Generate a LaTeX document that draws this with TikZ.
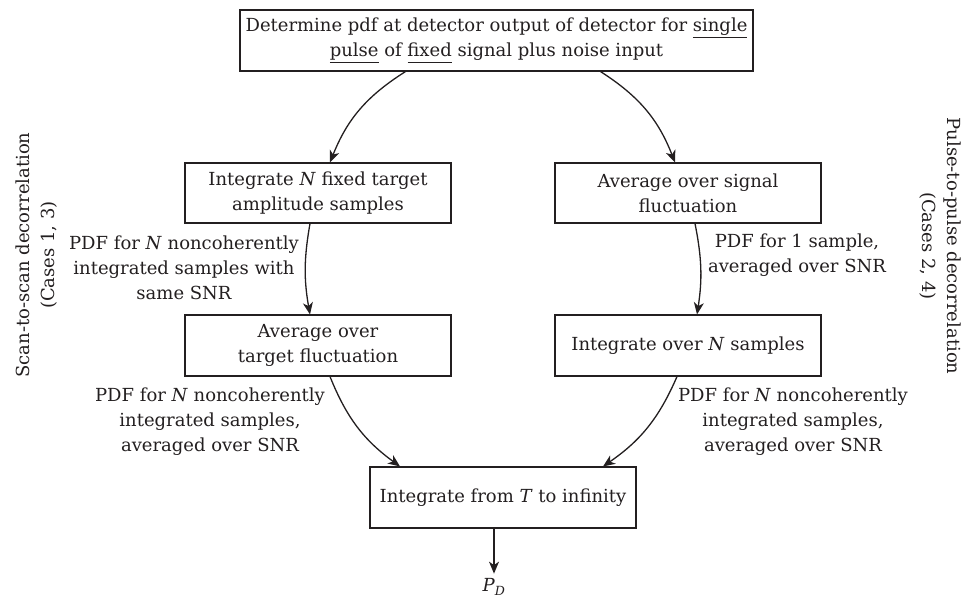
\documentclass[tikz,border=0pt]{standalone}
\usepackage{fontspec}
\setmainfont{DejaVu Serif}
\usetikzlibrary{arrows.meta,calc}
\definecolor{ink}{RGB}{35,31,32}
\newcommand{\myul}[1]{\underline{#1\vphantom{gp}}}
\tikzset{
  boxnode/.style={draw=ink,line width=1.1pt,minimum width=266pt,minimum height=60pt,align=center,inner sep=0pt,text=ink},
  lab/.style={align=center,inner sep=0pt,text=ink},
  conn/.style={draw=ink,line width=1.3pt,-{Stealth[length=12pt,width=10pt,inset=3.5pt]}}
}
\begin{document}
\begin{tikzpicture}[x=1pt,y=1pt,font=\fontsize{18}{25}\selectfont]
\useasboundingbox (0,0) rectangle (974,-598);
\node[boxnode,minimum width=513pt,minimum height=61pt] (top) at (496.5,-40.5)
  {Determine pdf at detector output of detector for \myul{single}\\\myul{pulse} of \myul{fixed} signal plus noise input};
\node[boxnode] (L1) at (318,-193) {Integrate \textit{N} fixed target\\amplitude samples};
\node[boxnode,minimum height=61pt] (L2) at (318,-345.5) {Average over\\target fluctuation};
\node[boxnode] (R1) at (688,-193) {Average over signal\\fluctuation};
\node[boxnode,minimum height=61pt] (R2) at (688,-345.5) {Integrate over \textit{N} samples};
\node[boxnode,minimum height=61pt] (B) at (503,-497.5) {Integrate from \textit{T} to infinity};
\node[lab] (PD) at (494,-587) {\textit{P}\textsubscript{\textit{D}}};

\node[lab] (labL1) at (184,-268) {PDF for \textit{N} noncoherently\\integrated samples with\\same SNR};
\node[lab] (labL2) at (210,-422) {PDF for \textit{N} noncoherently\\integrated samples,\\averaged over SNR};
\node[lab] (labR1) at (797,-255) {PDF for 1 sample,\\averaged over SNR};
\node[lab] (labR2) at (793,-422) {PDF for \textit{N} noncoherently\\integrated samples,\\averaged over SNR};

\node[lab,rotate=90] (sideL) at (37,-255) {Scan-to-scan decorrelation\\(Cases 1, 3)};
\node[lab,rotate=-90] (sideR) at (940,-246) {Pulse-to-pulse decorrelation\\(Cases 2, 4)};

\draw[conn] ([xshift=-91pt]top.south) to[bend right=18] ([xshift=12pt]L1.north);
\draw[conn] ([xshift=104pt]top.south) to[bend left=18] ([xshift=-13pt]R1.north);
\draw[conn] ([xshift=-8pt]L1.south) to[bend right=10] ([xshift=-8pt]L2.north);
\draw[conn] ([xshift=7pt]R1.south) to[bend left=10] ([xshift=9pt]R2.north);
\draw[conn] ([xshift=12pt]L2.south) to[bend right=16] ([xshift=-103pt]B.north);
\draw[conn] ([xshift=-11pt]R2.south) to[bend left=16] ([xshift=100pt]B.north);
\draw[conn,shorten >=5pt] (B.south -| PD.north) -- (PD.north);
\end{tikzpicture}
\end{document}
